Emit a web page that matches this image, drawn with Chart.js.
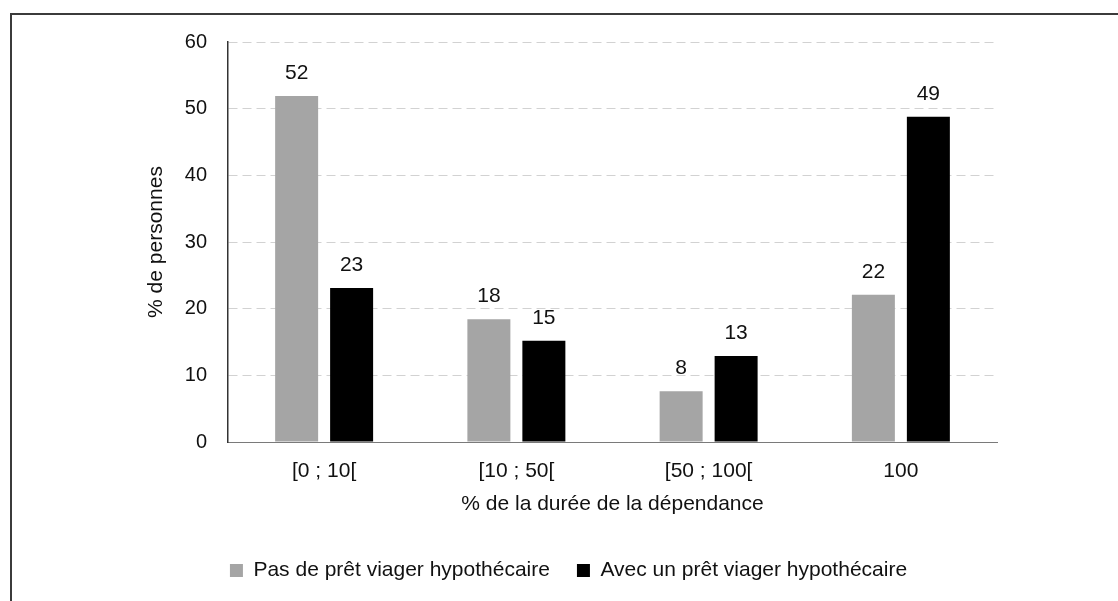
<!DOCTYPE html>
<html lang="fr">
<head>
<meta charset="utf-8">
<title>Prêt viager hypothécaire</title>
<script src="https://cdn.jsdelivr.net/npm/chart.js@4.4.1/dist/chart.umd.min.js"></script>
<style>
    html, body { margin: 0; padding: 0; background: #fff; overflow: hidden; }
    #wrap { position: relative; width: 1118px; height: 601px; }
    #frame {
        position: absolute; left: 10px; top: 13px; right: -10px; bottom: -10px;
        border-top: 2px solid #3b3b3b; border-left: 2px solid #3b3b3b;
    }
    #chart { position: absolute; left: 0; top: 0; }
</style>
</head>
<body>
<div id="wrap">
    <div id="frame"></div>
    <canvas id="chart" width="1118" height="601"></canvas>
</div>
<script>
const categories = ["[0 ; 10[", "[10 ; 50[", "[50 ; 100[", "100"];
const seriesNames = ["Pas de prêt viager hypothécaire", "Avec un prêt viager hypothécaire"];
const sansPret = [51.9, 18.4, 7.6, 22.1];
const avecPret = [23.1, 15.2, 12.9, 48.8];
const yTicks = [0, 10, 20, 30, 40, 50, 60];

(() => {
    document.addEventListener("DOMContentLoaded", init);

    const FONT = "'Liberation Sans', Arial, Helvetica, sans-serif";

    function init() {
        Chart.defaults.font.family = FONT;
        Chart.defaults.color = "#111";
        renderChart();
    }

    // valeurs arrondies au-dessus des barres
    const valueLabels = {
        id: "valueLabels",
        afterDatasetsDraw(chart) {
            const ctx = chart.ctx;
            ctx.save();
            ctx.font = "21px " + FONT;
            ctx.fillStyle = "#111";
            ctx.textAlign = "center";
            ctx.textBaseline = "alphabetic";
            chart.data.datasets.forEach((ds, i) => {
                chart.getDatasetMeta(i).data.forEach((bar, j) => {
                    ctx.fillText(String(Math.round(ds.data[j])), bar.x, bar.y - 17);
                });
            });
            ctx.restore();
        }
    };

    function renderChart() {
        const ctx = document.getElementById("chart");

        new Chart(ctx, {
            type: "bar",
            data: {
                labels: categories,
                datasets: [{
                    label: seriesNames[0],
                    data: sansPret,
                    backgroundColor: "#a5a5a5"
                }, {
                    label: seriesNames[1],
                    data: avecPret,
                    backgroundColor: "#000000"
                }]
            },
            options: {
                responsive: false,
                animation: false,
                categoryPercentage: 0.572,
                barPercentage: 0.782,
                layout: {
                    padding: { left: 140, right: 121, top: 42, bottom: 10 }
                },
                plugins: {
                    legend: {
                        position: "bottom",
                        labels: {
                            boxWidth: 13,
                            boxHeight: 13,
                            padding: 27,
                            color: "#111",
                            font: { size: 21 }
                        }
                    },
                    tooltip: { enabled: false }
                },
                scales: {
                    x: {
                        grid: { display: false, drawTicks: false },
                        border: { display: true, color: "#7a7a7a", width: 1 },
                        ticks: { padding: 17, font: { size: 21 }, color: "#111" },
                        title: {
                            display: true,
                            text: "% de la durée de la dépendance",
                            font: { size: 21 },
                            color: "#111",
                            padding: { top: 0, bottom: 16 }
                        },
                        afterFit: s => { s.height = 91; }
                    },
                    y: {
                        min: 0,
                        max: 60,
                        afterBuildTicks: s => { s.ticks = yTicks.map(v => ({ value: v })); },
                        grid: {
                            drawTicks: false,
                            color: c => (c.tick && c.tick.value === 0) ? "rgba(0,0,0,0)" : "#d2d2d2",
                            lineWidth: 1
                        },
                        border: { display: true, color: "#333333", width: 1.5, dash: [9, 5] },
                        ticks: { padding: 21, font: { size: 20 }, color: "#111" },
                        title: {
                            display: true,
                            text: "% de personnes",
                            font: { size: 21 },
                            color: "#111",
                            padding: { top: 4, bottom: 0 }
                        },
                        afterFit: s => { s.width = 88; }
                    }
                }
            },
            plugins: [valueLabels]
        });
    }
})();
</script>
</body>
</html>
